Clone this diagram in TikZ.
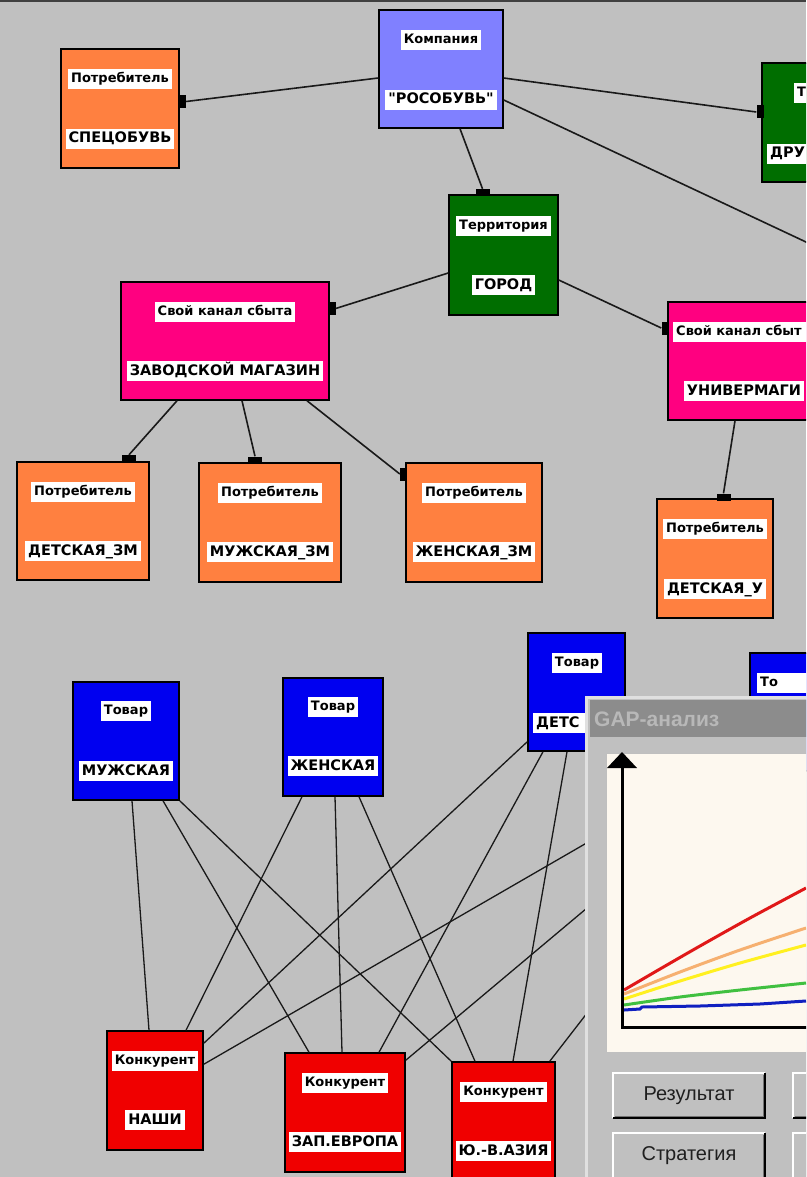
\documentclass[tikz,border=0pt]{standalone}
\usepackage{fontspec}
\setmainfont{Liberation Sans}
\newfontfamily\labfont{DejaVu Sans}
\definecolor{bgc}{HTML}{C0C0C0}
\definecolor{cKomp}{HTML}{8080FF}
\definecolor{cPotr}{HTML}{FF8040}
\definecolor{cTerr}{RGB}{0,110,0}
\definecolor{cKan}{HTML}{FF0080}
\definecolor{cTov}{HTML}{0000F0}
\definecolor{cKonk}{HTML}{F00000}
\definecolor{cTitle}{HTML}{8C8C8C}
\definecolor{cTitleTxt}{HTML}{B8B8B8}
\definecolor{cChart}{HTML}{FDF8EF}
\definecolor{gRed}{HTML}{E01818}
\definecolor{gOrange}{HTML}{F6B070}
\definecolor{gYellow}{HTML}{FFF020}
\definecolor{gGreen}{HTML}{40C040}
\definecolor{gBlue}{HTML}{1020C0}
\begin{document}
\begin{tikzpicture}[x=1pt,y=-1pt,
  box/.style={draw=black, line width=1.5pt, inner sep=0pt},
  lt/.style={fill=white, inner xsep=3pt, inner ysep=3.5pt, text height=10pt, text depth=2.5pt,
     font=\labfont\bfseries\fontsize{13}{14}\selectfont},
  lb/.style={fill=white, inner xsep=3pt, inner ysep=3.5pt, text height=10.5pt, text depth=2.5pt,
     font=\labfont\bfseries\fontsize{14.5}{15}\selectfont},
  port/.style={fill=black, draw=none, inner sep=0pt},
  pv/.style={port, minimum width=7pt, minimum height=13pt},
  ph/.style={port, minimum width=14pt, minimum height=7pt},
  con/.style={draw=black!90, line width=1.6pt},
  edge/.style={draw=black!90, line width=1.3pt},
  btntxt/.style={font=\fontsize{20}{22}\selectfont, text=black!88, inner sep=0pt},
]
\useasboundingbox (0,0) rectangle (806,1177);
\clip (0,0) rectangle (806,1177);
\fill[bgc] (0,0) rectangle (806,1177);
\fill[black!75] (0,0) rectangle (806,2.5);

% ---------- boxes ----------
\node[box, fill=cKomp, minimum width=124pt, minimum height=118pt] (komp) at (441,69) {};
\node[box, fill=cPotr, minimum width=118pt, minimum height=119pt] (spec) at (120,108.5) {};
\node[box, fill=cTerr, minimum width=158pt, minimum height=119pt] (dru) at (841,122.5) {};
\node[box, fill=cTerr, minimum width=109pt, minimum height=120pt] (gorod) at (503.5,255) {};
\node[box, fill=cKan, minimum width=208pt, minimum height=118pt] (zavod) at (225,341) {};
\node[box, fill=cKan, minimum width=152pt, minimum height=118pt] (univ) at (744,361) {};
\node[box, fill=cPotr, minimum width=132pt, minimum height=118pt] (dzm) at (83,521) {};
\node[box, fill=cPotr, minimum width=142pt, minimum height=119pt] (mzm) at (270,522.5) {};
\node[box, fill=cPotr, minimum width=136pt, minimum height=119pt] (zzm) at (474,522.5) {};
\node[box, fill=cPotr, minimum width=116pt, minimum height=119pt] (du) at (715,558.5) {};
\node[box, fill=cTov, minimum width=106pt, minimum height=118pt] (muz) at (126,741) {};
\node[box, fill=cTov, minimum width=100pt, minimum height=118pt] (zhen) at (333,737) {};
\node[box, fill=cTov, minimum width=97pt, minimum height=118pt] (dets) at (576.5,692) {};
\node[box, fill=cTov, minimum width=100pt, minimum height=118pt] (tov4) at (800,712) {};
\node[box, fill=cKonk, minimum width=96pt, minimum height=119pt] (nashi) at (155,1090.5) {};
\node[box, fill=cKonk, minimum width=120pt, minimum height=119pt] (zap) at (345,1112.5) {};
\node[box, fill=cKonk, minimum width=103pt, minimum height=118pt] (azia) at (503.5,1121) {};

% ---------- labels ----------
\node[lt] (komp-t) at (441,40) {Компания};
\node[lb] (komp-b) at (441,100) {"РОСОБУВЬ"};
\node[lt] (spec-t) at (120,79) {Потребитель};
\node[lb] (spec-b) at (120,139) {СПЕЦОБУВЬ};
\node[lt, anchor=west, text width=20pt, align=left] (dru-t) at (794,93) {Т};
\node[lb, anchor=west, text width=50pt, align=left] (dru-b) at (767,154) {ДРУ};
\node[lt] (gorod-t) at (503.5,226) {Территория};
\node[lb] (gorod-b) at (503.5,285) {ГОРОД};
\node[lt] (zavod-t) at (225,312) {Свой канал сбыта};
\node[lb] (zavod-b) at (225,371) {ЗАВОДСКОЙ МАГАЗИН};
\node[lt, anchor=west, text width=150pt, align=left] (univ-t) at (673,332) {Свой канал сбыт};
\node[lb] (univ-b) at (744,391) {УНИВЕРМАГИ};
\node[lt] (dzm-t) at (83,492) {Потребитель};
\node[lb] (dzm-b) at (83,551) {ДЕТСКАЯ\_ЗМ};
\node[lt] (mzm-t) at (270,493) {Потребитель};
\node[lb] (mzm-b) at (270,552) {МУЖСКАЯ\_ЗМ};
\node[lt] (zzm-t) at (474,493) {Потребитель};
\node[lb] (zzm-b) at (474,552) {ЖЕНСКАЯ\_ЗМ};
\node[lt] (du-t) at (715,529) {Потребитель};
\node[lb] (du-b) at (715,589) {ДЕТСКАЯ\_У};
\node[lt] (muz-t) at (126,711) {Товар};
\node[lb] (muz-b) at (126,771) {МУЖСКАЯ};
\node[lt] (zhen-t) at (333,707) {Товар};
\node[lb] (zhen-b) at (333,766) {ЖЕНСКАЯ};
\node[lt] (dets-t) at (577,663) {Товар};
\node[lb, anchor=west, text width=70pt, align=left] (dets-b) at (533,723) {ДЕТС};
\node[lt, anchor=west, text width=60pt, align=left] (tov4-t) at (757,683) {То};
\node[lt] (nashi-t) at (155,1061) {Конкурент};
\node[lb] (nashi-b) at (155,1120) {НАШИ};
\node[lt] (zap-t) at (345,1083) {Конкурент};
\node[lb] (zap-b) at (345,1142) {ЗАП.ЕВРОПА};
\node[lt] (azia-t) at (503.5,1092) {Конкурент};
\node[lb] (azia-b) at (503.5,1151) {Ю.-В.АЗИЯ};

% ---------- ports ----------
\node[pv] (p-spec) at (182.5,101.5) {};
\node[pv] (p-dru) at (760,112) {};
\node[ph] (p-gorod) at (482.5,192.5) {};
\node[pv] (p-zavod) at (332,308.5) {};
\node[pv] (p-univ) at (665,328) {};
\node[ph] (p-dzm) at (129,458.5) {};
\node[ph] (p-mzm) at (255,460) {};
\node[pv] (p-zzm) at (403.5,474) {};
\node[ph] (p-du) at (723.5,497) {};
\coordinate (off1) at (906,289);

% ---------- top connectors ----------
\draw[con] ([yshift=-9pt]komp.west) -- (p-spec.east);
\draw[con] ([yshift=-9pt]komp.east) -- (p-dru.west);
\draw[con] ([xshift=19pt]komp.south) -- (p-gorod.north);
\draw[con] ([yshift=-31pt]komp.east) -- (off1);
\draw[con] ([yshift=-18pt]gorod.west) -- (p-zavod.east);
\draw[con] ([yshift=-25pt]gorod.east) -- (p-univ.west);
\draw[con] ([xshift=-48pt]zavod.south) -- (p-dzm.north);
\draw[con] ([xshift=17pt]zavod.south) -- (p-mzm.north);
\draw[con] ([xshift=82pt]zavod.south) -- (p-zzm.west);
\draw[con] ([xshift=-9pt]univ.south) -- (p-du.north);

% ---------- bottom connectors ----------
\draw[edge] ([xshift=6pt]muz.south) -- ([xshift=-6pt]nashi.north);
\draw[edge] ([xshift=37pt]muz.south) -- ([xshift=-36pt]zap.north);
\draw[edge] (muz.south east) -- (azia.north west);
\draw[edge] ([xshift=-31pt]zhen.south) -- ([xshift=31pt]nashi.north);
\draw[edge] ([xshift=2pt]zhen.south) -- ([xshift=-3pt]zap.north);
\draw[edge] ([xshift=26pt]zhen.south) -- ([xshift=-28.5pt]azia.north);
\draw[edge] ([yshift=10pt]dets.south west) -- ([yshift=-13pt]nashi.north east);
\draw[edge] ([xshift=-33.5pt]dets.south) -- ([xshift=34pt]zap.north);
\draw[edge] ([xshift=-9.5pt]dets.south) -- ([xshift=9.5pt]azia.north);
\draw[edge] ([yshift=-34pt]nashi.north east) -- ([yshift=-37pt]tov4.west);
\draw[edge] ([yshift=-8pt]zap.north east) -- (tov4.south west);
\draw[edge] ([xshift=-6pt]azia.north east) -- ([xshift=-26pt]tov4.south);

% ---------- GAP window ----------
\fill[black!12] (585,696) rectangle (830,1200);
\fill[bgc] (588,699) rectangle (830,1200);
\fill[cTitle] (590,700) rectangle (830,737);
\node[anchor=west, inner sep=0pt, text=cTitleTxt, font=\bfseries\fontsize{21}{22}\selectfont] (gtitle) at (594,719) {GAP-анализ};
\fill[cChart] (606,753) rectangle (830,1052);
\draw[black!25, line width=0.8pt] (606,1052) -- (606,753) -- (830,753);
% curves
\draw[gBlue, line width=3pt] (624,1010) -- (640,1009) -- (642,1007) -- (700,1006) -- (760,1004) -- (806,1001);
\draw[gGreen, line width=3pt] plot[smooth] coordinates {(624,1005) (680,997) (740,990) (806,983)};
\draw[gYellow, line width=3pt] plot[smooth] coordinates {(624,999) (680,981) (740,963) (806,945)};
\draw[gOrange, line width=3pt] plot[smooth] coordinates {(624,994) (680,972) (740,950) (806,928)};
\draw[gRed, line width=3pt] plot[smooth] coordinates {(624,990) (660,969) (700,946) (750,918) (806,888)};
% axes
\draw[black, line width=3pt] (622,766) -- (622,1027) -- (830,1027);
\fill[black] (607,768) -- (637,768) -- (622,752) -- cycle;
% buttons
\foreach \bx/\bw in {613/152, 793/152} {
  \foreach \by/\bh in {1073/45, 1133/60} {
    \fill[bgc] (\bx,\by) rectangle ++(\bw,\bh);
    \draw[white, line width=1.5pt] (\bx,\by+\bh) -- (\bx,\by) -- (\bx+\bw,\by);
    \draw[black!55, line width=1pt] (\bx+2,\by+\bh-2) -- (\bx+\bw-2,\by+\bh-2) -- (\bx+\bw-2,\by+2);
    \draw[black, line width=1.5pt] (\bx,\by+\bh) -- (\bx+\bw,\by+\bh) -- (\bx+\bw,\by);
  }
}
\node[btntxt] (b-res) at (689,1096) {Результат};
\node[btntxt] (b-str) at (689,1156) {Стратегия};
\end{tikzpicture}
\end{document}
